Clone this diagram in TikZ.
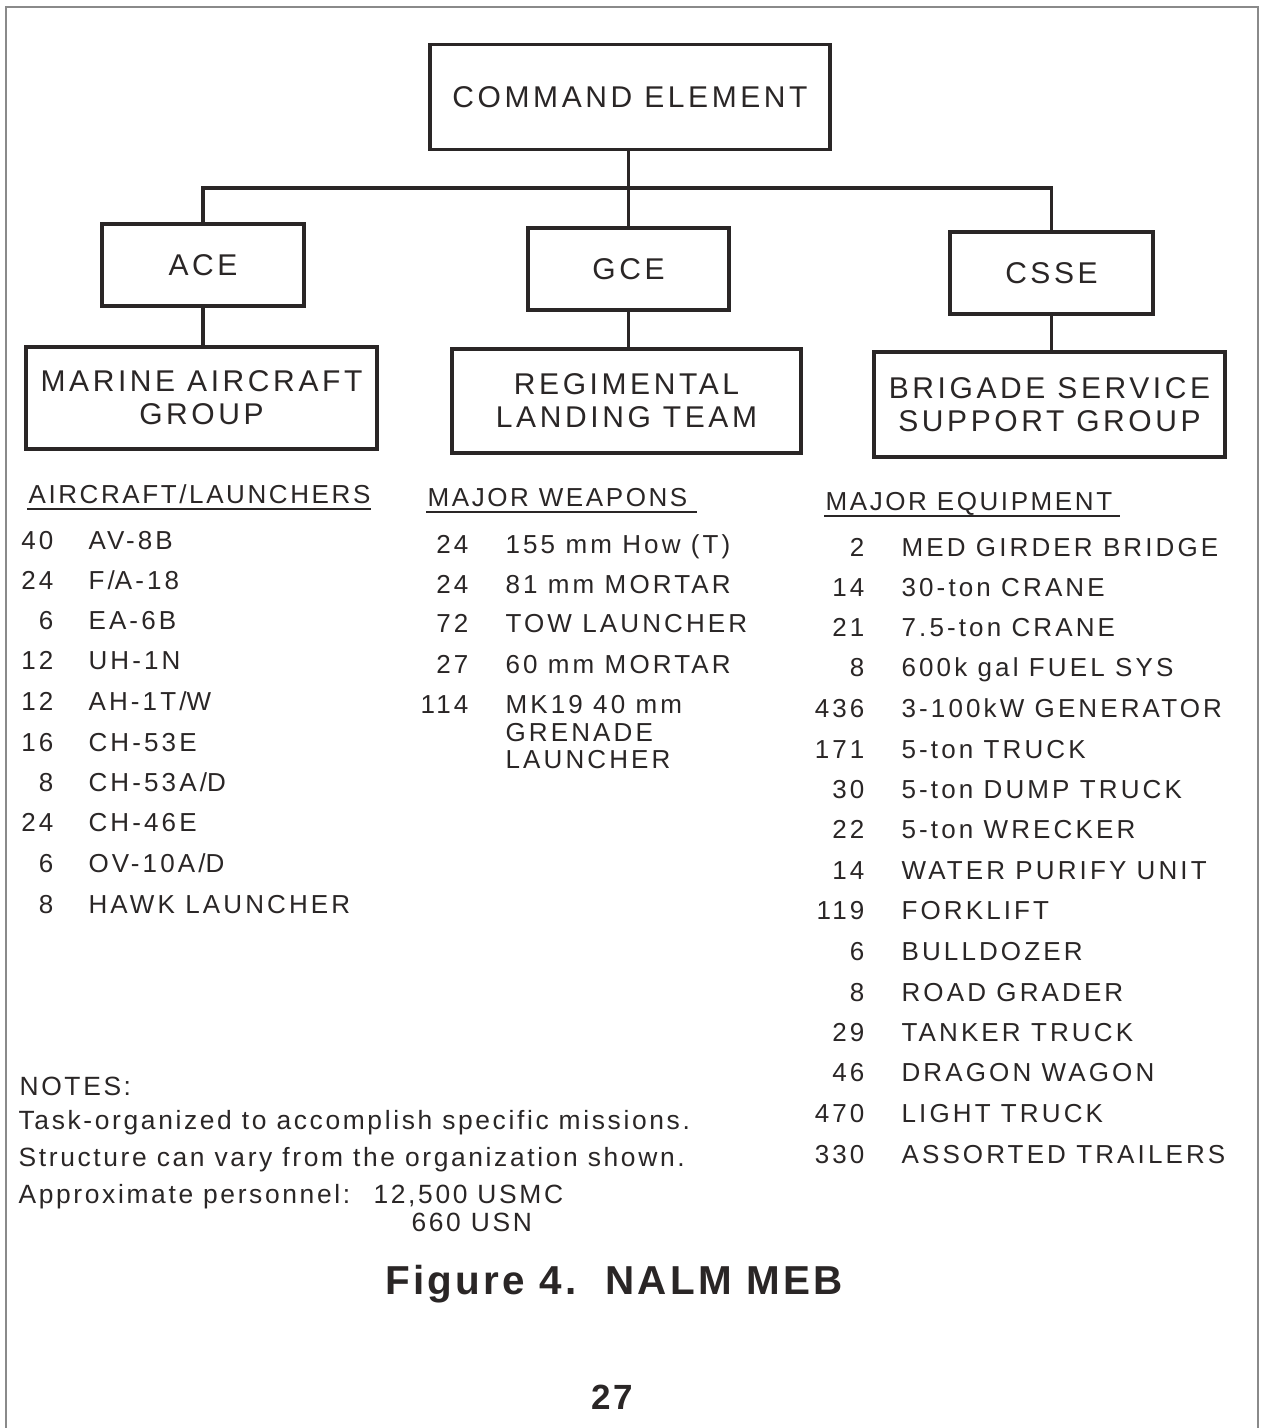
\documentclass[tikz,border=0pt]{standalone}
\usepackage{fontspec}
\setmainfont[LetterSpace=12]{Liberation Sans}
\newfontfamily\headfont[LetterSpace=10]{Liberation Sans}
\newfontfamily\notefont[LetterSpace=10]{Liberation Sans}
\newfontfamily\capfont[LetterSpace=8]{Liberation Sans}
\definecolor{ink}{HTML}{2A2626}
\definecolor{frame}{HTML}{8A8A8A}
\begin{document}
\begin{tikzpicture}[x=0.5pt,y=-0.5pt,
  ink, line width=1.6pt,
  box/.style={draw=ink, inner sep=0pt, align=center, font=\fontsize{15}{16.5}\selectfont},
  item/.style={anchor=base west, inner sep=0pt, font=\fontsize{13}{13.5}\selectfont},
  cnt/.style={anchor=base east, inner sep=0pt, font=\fontsize{13}{13.5}\selectfont},
  head/.style={anchor=base west, inner sep=0pt, font=\headfont\fontsize{13}{15}\selectfont},
  note/.style={anchor=base west, inner sep=0pt, font=\notefont\fontsize{13.2}{14}\selectfont},
  uline/.style={line width=0.7pt}]
\useasboundingbox (0,0) rectangle (1261,1428);
\fill[white] (0,0) rectangle (1261,1428);
\draw[frame, line width=1.2pt] (6,1428) -- (6,7) -- (1258,7) -- (1258,1428);

% boxes
\node[box, minimum width=200pt, minimum height=52.5pt] (ce) at (630,97) {COMMAND ELEMENT};
\node[box, minimum width=101pt, minimum height=41pt] (ace) at (203,265) {ACE};
\node[box, minimum width=100.5pt, minimum height=41pt] (gce) at (628.5,269) {GCE};
\node[box, minimum width=101.5pt, minimum height=41pt] (csse) at (1051.5,273) {CSSE};
\node[box, minimum width=175.5pt, minimum height=51pt] (mag) at (201.5,398) {MARINE AIRCRAFT\\GROUP};
\node[box, minimum width=174.5pt, minimum height=52pt] (rlt) at (626.5,401) {REGIMENTAL\\LANDING TEAM};
\node[box, minimum width=175.5pt, minimum height=52.5pt] (bssg) at (1049.5,404.5) {BRIGADE SERVICE\\SUPPORT GROUP};

% connectors
\coordinate (bar) at (628.5,188);
\draw (ce.south -| gce.north) -- (gce.north);
\draw (ace.north) |- (bar) -| (csse.north);
\draw (ace.south) -- (ace.south |- mag.north);
\draw (gce.south) -- (gce.south |- rlt.north);
\draw (csse.south) -- (csse.south |- bssg.north);

% headings
\node[head] (h1) at (27,503) {AIRCRAFT/LAUNCHERS};
\node[head] (h2) at (426,506) {MAJOR WEAPONS};
\node[head] (h3) at (824,510) {MAJOR EQUIPMENT};
\draw[uline] (h1.base west) ++(0,6) -- ++(344,0);
\draw[uline] (h2.base west) ++(0,6) -- ++(271,0);
\draw[uline] (h3.base west) ++(0,6) -- ++(296,0);

% left list
\foreach \n/\t/\y [count=\i] in {40/AV-8B/549, 24/F\slash A-18/589, 6/EA-6B/629, 12/UH-1N/669, 12/AH-1T\slash W/710, 16/CH-53E/751, 8/CH-53A\slash D/791, 24/CH-46E/831, 6/OV-10A\slash D/872, 8/HAWK LAUNCHER/913}{
  \node[cnt] (ln\i) at (55,\y) {\n};
  \node[item] (lt\i) at (87,\y) {\t};
}

% middle list
\foreach \n/\t/\y [count=\i] in {24/155 mm How (T)/553, 24/81 mm MORTAR/593, 72/TOW LAUNCHER/632, 27/60 mm MORTAR/673, 114/MK19 40 mm/713}{
  \node[cnt] (mn\i) at (470,\y) {\n};
  \node[item] (mt\i) at (504,\y) {\t};
}
\node[item] (mt6) at (504,741) {GRENADE};
\node[item] (mt7) at (504,768) {LAUNCHER};

% right list
\foreach \n/\t/\y [count=\i] in {2/MED GIRDER BRIDGE/556, 14/30-ton CRANE/596, 21/7.5-ton CRANE/636, 8/600k gal FUEL SYS/676, 436/3-100kW GENERATOR/717, 171/5-ton TRUCK/758, 30/5-ton DUMP TRUCK/798, 22/5-ton WRECKER/838, 14/WATER PURIFY UNIT/879, 119/FORKLIFT/919, 6/BULLDOZER/960, 8/ROAD GRADER/1001, 29/TANKER TRUCK/1041, 46/DRAGON WAGON/1081, 470/LIGHT TRUCK/1122, 330/ASSORTED TRAILERS/1163}{
  \node[cnt] (rn\i) at (866,\y) {\n};
  \node[item] (rt\i) at (900,\y) {\t};
}

% notes
\node[note] (n0) at (18,1095) {NOTES:};
\node[note] (n1) at (17,1129) {Task-organized to accomplish specific missions.};
\node[note] (n2) at (17,1166) {Structure can vary from the organization shown.};
\node[note] (n3) at (17,1203) {Approximate personnel:};
\node[note] (n4) at (372,1203) {12,500 USMC};
\node[note] (n5) at (410,1231) {660 USN};

% caption
\node[inner sep=0pt, font=\capfont\bfseries\fontsize{20.2}{22}\selectfont] (cap) at (614,1284) {Figure 4.\ \ NALM MEB};
\node[inner sep=0pt, font=\capfont\bfseries\fontsize{17.5}{19}\selectfont] (pg) at (612,1397) {27};
\end{tikzpicture}
\end{document}
